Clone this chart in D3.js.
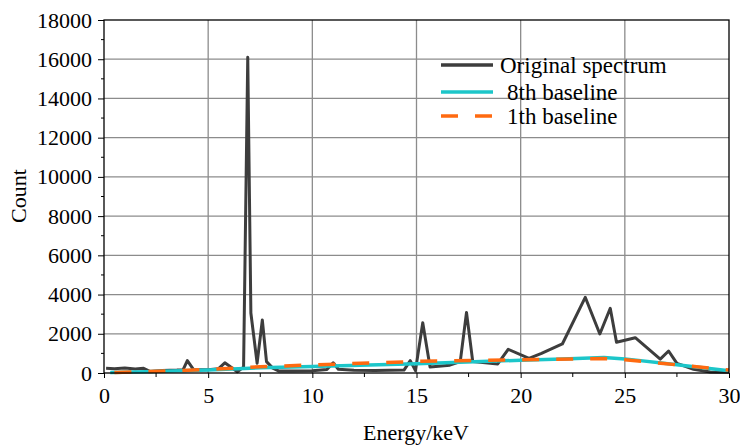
<!DOCTYPE html>
<html><head><meta charset="utf-8">
<script src="https://cdn.jsdelivr.net/npm/d3@7"></script>
<style>body{margin:0;background:#fff}svg{display:block}text{font-family:"Liberation Serif","Times New Roman",serif;fill:#000}</style>
</head><body>
<svg id="c" width="740" height="446"></svg>
<script>
const spectrumE = [0.1,0.5,1,1.5,1.9,2.2,2.8,3.5,3.8,4.0,4.3,5.0,5.5,5.8,6.4,6.7,6.9,7.05,7.35,7.6,7.8,8.1,8.4,9,10,10.7,11.0,11.25,12,13,14.4,14.7,14.95,15.3,15.65,16.6,17.1,17.4,17.7,18.9,19.4,20.4,21,22.0,23.1,23.8,24.3,24.6,25.5,26.7,27.1,27.5,28.3,29.1,30];
const spectrumC = [240,220,250,210,240,80,130,150,170,630,170,170,220,520,60,300,16100,3060,500,2700,580,250,100,100,110,180,520,190,140,130,150,630,120,2560,300,400,580,3090,580,460,1210,750,1000,1480,3860,1990,3300,1570,1800,710,1120,490,190,50,40];
const base8E = [0.3,2,5,7.5,10,15,20,22,24,25,27.5,30];
const base8C = [20,60,150,270,330,470,650,720,790,720,420,120];
const base1E = [0.5,3,5,7.5,10,15,20,24,25,27,30];
const base1C = [30,100,180,320,410,590,670,740,680,470,150];
const xTicks = [0,5,10,15,20,25,30];
const yTicks = [0,2000,4000,6000,8000,10000,12000,14000,16000,18000];
const legendLabels = ["Original spectrum","8th baseline","1th baseline"];

const FONT = '"Liberation Serif","Times New Roman",serif';
const svg = d3.select("#c");
const x = d3.scaleLinear().domain([0,30]).range([104,729]);
const y = d3.scaleLinear().domain([0,18000]).range([373,20]);

// grid
const g = svg.append("g");
g.selectAll("line.gx").data(xTicks.slice(1,-1)).enter().append("line")
  .attr("x1",d=>x(d)).attr("x2",d=>x(d)).attr("y1",y(0)).attr("y2",y(18000))
  .attr("stroke","#8c8c8c").attr("stroke-width",1.3);
g.selectAll("line.gy").data(yTicks.slice(1,-1)).enter().append("line")
  .attr("x1",x(0)).attr("x2",x(30)).attr("y1",d=>y(d)).attr("y2",d=>y(d))
  .attr("stroke","#8c8c8c").attr("stroke-width",1.3);

const line = d3.line().x(d=>x(d[0])).y(d=>y(d[1]));
svg.append("path").datum(spectrumE.map((e,i)=>[e,spectrumC[i]]))
  .attr("d",line).attr("fill","none").attr("stroke","#3d3d3d").attr("stroke-width",3).attr("stroke-linejoin","round");
svg.append("path").datum(base8E.map((e,i)=>[e,base8C[i]]))
  .attr("d",line).attr("fill","none").attr("stroke","#1cc6c9").attr("stroke-width",3.5);
svg.append("path").datum(base1E.map((e,i)=>[e,base1C[i]]))
  .attr("d",line).attr("fill","none").attr("stroke","#ff6a10").attr("stroke-width",3.5).attr("stroke-dasharray","17,17");

// axes
const xAxis = d3.axisBottom(x).tickValues(xTicks).tickSize(5).tickPadding(9).tickFormat(d3.format("d"));
const gx = svg.append("g").attr("transform",`translate(0,${y(0)})`).call(xAxis);
const yAxis = d3.axisLeft(y).tickValues(yTicks).tickSize(6).tickPadding(6).tickFormat(d3.format("d"));
const gy = svg.append("g").attr("transform",`translate(${x(0)},0)`).call(yAxis);
[gx,gy].forEach(a=>{a.attr("font-family",FONT).attr("font-size",22);a.select(".domain").remove();a.selectAll("text").attr("fill","#000").style("font-size","22px");a.selectAll("line").attr("stroke","#000");});
// minor ticks
svg.append("g").selectAll("line").data(d3.range(2.5,30,5)).enter().append("line")
  .attr("x1",d=>x(d)).attr("x2",d=>x(d)).attr("y1",y(0)).attr("y2",y(0)+4).attr("stroke","#000");
svg.append("g").selectAll("line").data(d3.range(1000,18000,2000)).enter().append("line")
  .attr("x1",x(0)).attr("x2",x(0)-3).attr("y1",d=>y(d)).attr("y2",d=>y(d)).attr("stroke","#000");
// frame
svg.append("rect").attr("x",x(0)).attr("y",y(18000)).attr("width",x(30)-x(0)).attr("height",y(0)-y(18000))
  .attr("fill","none").attr("stroke","#000").attr("stroke-width",1.3);

// titles
svg.append("text").attr("x",416).attr("y",440).attr("text-anchor","middle").style("font-size","22px").text("Energy/keV");
svg.append("text").attr("transform","translate(26,196) rotate(-90)").attr("text-anchor","middle").style("font-size","22px").text("Count");

// legend
const leg = svg.append("g");
const ly = [65,92,116];
const styles = [{c:"#3d3d3d",d:null},{c:"#1cc6c9",d:null},{c:"#ff6a10",d:"17,17"}];
const tx = [500,507,507];
legendLabels.forEach((t,i)=>{
  const l = leg.append("line").attr("x1",441).attr("x2",493).attr("y1",ly[i]).attr("y2",ly[i])
    .attr("stroke",styles[i].c).attr("stroke-width",3.5);
  if(styles[i].d) l.attr("stroke-dasharray",styles[i].d);
  leg.append("text").attr("x",tx[i]).attr("y",ly[i]+8).style("font-size","23px").text(t);
});
</script>
</body></html>
